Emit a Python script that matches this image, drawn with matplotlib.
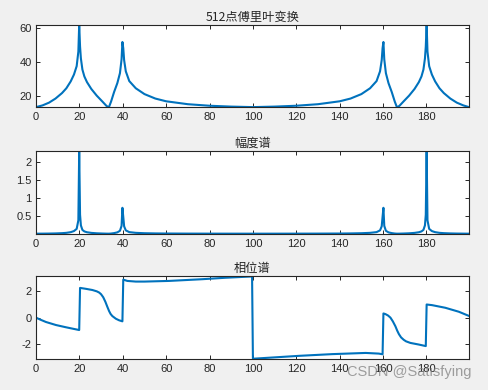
import matplotlib
matplotlib.use("Agg")
import matplotlib.pyplot as plt

# ---- data ----
f_db = [0, 3, 6, 9, 12, 14, 16, 17.5, 18.75, 19.53, 19.92, 20.31, 20.7, 21.4, 22.3, 23.5,
        25.5, 28, 30.5, 32.5, 33.6, 34.6, 36, 37.5, 38.7, 39.45, 39.84, 40.23, 40.63, 41.4,
        43, 46, 50, 55, 60, 70, 80, 90, 100,
        110, 120, 130, 140, 145, 150, 154, 157, 158.6, 159.37, 159.77, 160.16, 160.55,
        161.3, 162.5, 164, 165.4, 166.4, 167.5, 169.5, 172, 174.5, 176.5, 177.7, 178.6,
        179.3, 179.69, 180.08, 180.47, 181.25, 182.5, 184, 186, 188, 191, 194, 197, 199.61]
db = [13.6, 14.6, 16.2, 18.6, 21.8, 24.6, 28.6, 32.6, 37.5, 46, 61.7, 49, 42, 35.5, 31.5, 28.2,
      24.2, 20.3, 17.0, 14.3, 13.5, 16.8, 22.4, 27.6, 33.4, 41.5, 51.6, 48, 41, 34.5,
      28.8, 24.6, 21.2, 18.6, 17.0, 15.3, 14.4, 13.9, 13.6,
      13.9, 14.4, 15.3, 17.0, 18.6, 21.2, 24.6, 28.8, 34.5, 41, 48, 51.6, 41.5,
      33.4, 27.6, 22.4, 16.8, 13.5, 14.3, 17.0, 20.3, 24.2, 28.2, 31.5, 35.5,
      42, 49, 61.7, 46, 37.5, 32.6, 28.6, 24.6, 21.8, 18.6, 16.2, 14.6, 13.6]

amp = [0.0091, 0.0102, 0.0123, 0.0162, 0.0235, 0.0324, 0.0513, 0.0814, 0.143, 0.381, 2.32,
       0.538, 0.240, 0.114, 0.072, 0.049, 0.031, 0.0197, 0.0135, 0.0099, 0.0090, 0.0132,
       0.0251, 0.0457, 0.0893, 0.227, 0.73, 0.479, 0.214, 0.101, 0.0525, 0.0324, 0.0219,
       0.0162, 0.0135, 0.0111, 0.0100, 0.0094, 0.0091,
       0.0094, 0.0100, 0.0111, 0.0135, 0.0162, 0.0219, 0.0324, 0.0525, 0.101, 0.214,
       0.479, 0.73, 0.227, 0.0893, 0.0457, 0.0251, 0.0132, 0.0090, 0.0099, 0.0135,
       0.0197, 0.031, 0.049, 0.072, 0.114, 0.240, 0.538, 2.32, 0.381, 0.143, 0.0814,
       0.0513, 0.0324, 0.0235, 0.0162, 0.0123, 0.0102, 0.0091]

f_ph = [0, 2, 4.6, 9.2, 13.8, 17, 19.92, 20.31, 23, 26, 28, 29.1, 30.0, 31.0, 32.0, 32.9,
        33.7, 34.4, 35.2, 36.8, 38.3, 39.84, 40.23, 42.1, 46, 50, 61.3, 76.6, 87.3, 99.61,
        100.0, 121.3, 136.6, 152, 158, 159.77, 160.16, 161.1, 162.3, 163.4, 164.5, 165.7,
        166.5, 167.3, 168.3, 169.5, 170.6, 172.6, 176.4, 179.69, 180.08, 182.6, 188.7,
        194.9, 199.61]
phase = [0.0, -0.15, -0.33, -0.56, -0.73, -0.84, -0.94, 2.26, 2.19, 2.10, 2.0, 1.91, 1.78,
         1.55, 1.2, 0.82, 0.5, 0.28, 0.12, -0.08, -0.2, -0.28, 2.89, 2.79, 2.74, 2.74,
         2.79, 2.92, 3.03, 3.13, -3.12, -2.9, -2.77, -2.68, -2.73, -2.78, 0.32, 0.27, 0.16,
         0.0, -0.28, -0.66, -0.98, -1.25, -1.5, -1.68, -1.8, -1.92, -2.04, -2.16, 1.0,
         0.95, 0.75, 0.45, 0.13]

titles = ["512点傅里叶变换", "幅度谱", "相位谱"]
xticks = [0, 20, 40, 60, 80, 100, 120, 140, 160, 180]
yticks = [[20, 40, 60], [0.5, 1, 1.5, 2], [-2, 0, 2]]
ytlabels = [["20", "40", "60"], ["0.5", "1", "1.5", "2"], ["-2", "0", "2"]]
ylims = [(13.5, 61.7), (0.0088, 2.32), (-3.14, 3.14)]
xmax = 199.61

plt.rcParams['font.family'] = ['Liberation Sans', 'Noto Sans CJK SC', 'DejaVu Sans']

fig = plt.figure(figsize=(4.89, 3.90), dpi=100, facecolor='#f0f0f0')
positions = [(0.0736, 0.7249, 0.8855, 0.2118),
             (0.0736, 0.4008, 0.8855, 0.2128),
             (0.0736, 0.0795, 0.8855, 0.2120)]
series = [(f_db, db), (f_db, amp), (f_ph, phase)]
edge = '#262626'
for i, pos in enumerate(positions):
    ax = fig.add_axes(pos)
    x, y = series[i]
    ax.plot(x, y, color='#0072BD', lw=1.5, solid_joinstyle='round')
    ax.set_xlim(0, xmax)
    ax.set_ylim(*ylims[i])
    ax.set_xticks(xticks)
    ax.set_xticklabels([str(t) for t in xticks])
    ax.set_yticks(yticks[i])
    ax.set_yticklabels(ytlabels[i])
    ax.tick_params(direction='in', length=3, width=0.7, colors=edge, labelsize=8,
                   top=True, right=True, pad=3.5)
    ax.tick_params(axis='y', pad=3)
    for s in ax.spines.values():
        s.set_color(edge)
        s.set_linewidth(0.8)
    ax.set_title(titles[i], fontsize=8.8, color='#262626', pad=3,
                 family=['Noto Sans CJK SC', 'DejaVu Sans'])

fig.text(0.965, 0.046, "CSDN @Satisfying", ha='right', va='center', fontsize=10.5,
         color='#808080', alpha=0.75)

fig.savefig("out.png", dpi=100, facecolor=fig.get_facecolor())
